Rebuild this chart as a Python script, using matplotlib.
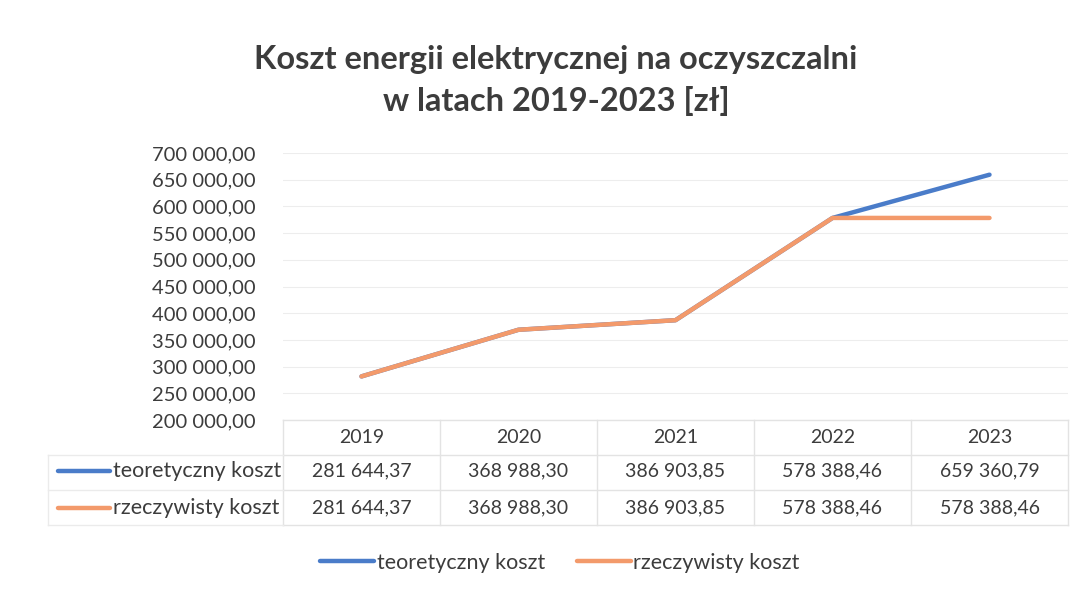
import matplotlib

matplotlib.use('Agg')

import matplotlib.pyplot as plt
from matplotlib.ticker import FuncFormatter


years = ['2019', '2020', '2021', '2022', '2023']
teoretyczny = [281644.37, 368988.30, 386903.85, 578388.46, 659360.79]
rzeczywisty = [281644.37, 368988.30, 386903.85, 578388.46, 578388.46]
series_names = ['teoretyczny koszt', 'rzeczywisty koszt']
y_ticks = [200000, 250000, 300000, 350000, 400000, 450000,
           500000, 550000, 600000, 650000, 700000]

BLUE = '#4a7cc9'
ORANGE = '#f39a6b'
TEXT = '#3c3c3c'
GRID = '#ededed'
W, H = 1086, 591

plt.rcParams['font.family'] = ['Lato', 'DejaVu Sans']


def pl_number(v):
    whole, frac = f"{v:,.2f}".split('.')
    return whole.replace(',', ' ') + ',' + frac


def fx(px):
    return px / W


def fy(px):
    return 1 - px / H


fig = plt.figure(figsize=(W / 100, H / 100), dpi=100)
fig.patch.set_facecolor('white')

# plot area
ax = fig.add_axes([fx(283), fy(420), fx(1068) - fx(283), fy(153) - fy(420)])
x = list(range(len(years)))
line_t, = ax.plot(x, teoretyczny, color=BLUE, linewidth=3.2,
                  solid_capstyle='round', label=series_names[0], zorder=3)
line_r, = ax.plot(x, rzeczywisty, color=ORANGE, linewidth=3.2,
                  solid_capstyle='round', label=series_names[1], zorder=4)
ax.set_xlim(-0.5, len(years) - 0.5)
ax.set_ylim(200000, 700000)
ax.set_yticks(y_ticks)
ax.yaxis.set_major_formatter(FuncFormatter(lambda v, _: pl_number(v)))
ax.set_xticks([])
ax.tick_params(axis='y', length=0, pad=20, labelsize=14.5, labelcolor=TEXT)
ax.grid(axis='y', color=GRID, linewidth=0.8)
ax.set_axisbelow(True)
for s in ax.spines.values():
    s.set_visible(False)

# data table (x in column units, same scale as the plot)
tab = fig.add_axes([fx(283), fy(525), fx(1068) - fx(283), fy(420) - fy(525)])
tab.set_xlim(-0.5, len(years) - 0.5)
tab.set_ylim(3, 0)
tab.axis('off')
for i, yr in enumerate(years):
    tab.text(i, 0.5, yr, ha='center', va='center', fontsize=14, color=TEXT)
    tab.text(i, 1.45, pl_number(teoretyczny[i]), ha='center', va='center',
             fontsize=14, color=TEXT)
    tab.text(i, 2.5, pl_number(rzeczywisty[i]), ha='center', va='center',
             fontsize=14, color=TEXT)
for b in [i - 0.5 for i in range(len(years) + 1)]:
    tab.plot([b, b], [0, 3], color='#e3e3e3', linewidth=1, clip_on=False)
for r in [0, 1, 2, 3]:
    tab.plot([-0.5, len(years) - 0.5], [r, r], color='#e3e3e3',
             linewidth=1, clip_on=False)
for r in [1, 2, 3]:
    tab.plot([-2.0, -0.5], [r, r], color='#ebebeb', linewidth=1,
             clip_on=False)
tab.plot([-2.0, -2.0], [1, 3], color='#ebebeb', linewidth=1, clip_on=False)

for row, (name, col) in enumerate(zip(series_names, [BLUE, ORANGE])):
    yrow = 1.45 + row * 1.05
    tab.plot([-1.93, -1.6], [yrow, yrow], color=col, linewidth=3.2,
             solid_capstyle='round', clip_on=False)
    tab.text(-1.585, yrow, name, ha='left', va='center', fontsize=15.5,
             color=TEXT, clip_on=False)

# title
fig.text(fx(556), fy(60), 'Koszt energii elektrycznej na oczyszczalni',
         ha='center', va='center', fontsize=23.5, fontweight='bold',
         color=TEXT)
fig.text(fx(556), fy(101), 'w latach 2019-2023 [zł]',
         ha='center', va='center', fontsize=23.5, fontweight='bold',
         color=TEXT)

# legend
fig.legend(handles=[line_t, line_r], loc='center',
           bbox_to_anchor=(fx(560), fy(563)), ncol=2, frameon=False,
           fontsize=15.5, handlelength=2.5, handletextpad=0.12,
           columnspacing=1.5, labelcolor=TEXT)

fig.savefig('out.png', dpi=100)
